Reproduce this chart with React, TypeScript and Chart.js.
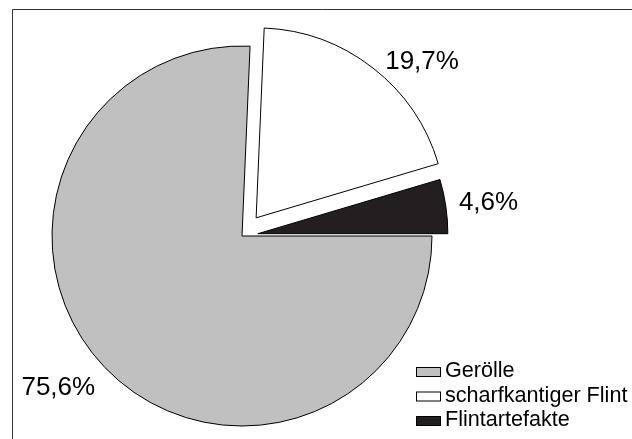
import React, { useEffect, useRef } from "react";
import { Chart, registerables } from "chart.js";

Chart.register(...registerables);

// ---- data ----
const categories: string[] = ["Gerölle", "scharfkantiger Flint", "Flintartefakte"];
const values: number[] = [75.6, 19.7, 4.6];
const valueLabels: string[] = ["75,6%", "19,7%", "4,6%"];

// ---- styles ----
const colors = ["#c0c0c0", "#ffffff", "#231f20"];
const explode = [0, 23, 16]; // px pulled out along slice mid-angle
const labelAngleShift = [4.6, 8.5, 0.2]; // degrees
const labelDist = [237, 229, 233];
const FONT = '"Liberation Sans", Arial, Helvetica, sans-serif';

const W = 632;
const H = 439;

const explodePlugin = {
  id: "explodeSlices",
  afterDatasetsUpdate(chart: any) {
    const meta = chart.getDatasetMeta(0);
    meta.data.forEach((arc: any, i: number) => {
      const mid = (arc.startAngle + arc.endAngle) / 2;
      arc.x += Math.cos(mid) * explode[i];
      arc.y += Math.sin(mid) * explode[i];
    });
  },
};

const framePlugin = {
  id: "frame",
  beforeDraw(chart: any) {
    const ctx = chart.ctx;
    ctx.save();
    ctx.fillStyle = "#ffffff";
    ctx.fillRect(0, 0, W, H);
    ctx.strokeStyle = "#333333";
    ctx.lineWidth = 1;
    ctx.beginPath();
    ctx.moveTo(W, 9.5);
    ctx.lineTo(12.5, 9.5);
    ctx.lineTo(12.5, H);
    ctx.stroke();
    ctx.restore();
  },
};

const labelPlugin = {
  id: "valueLabels",
  afterDatasetsDraw(chart: any) {
    const ctx = chart.ctx;
    const meta = chart.getDatasetMeta(0);
    ctx.save();
    ctx.fillStyle = "#000000";
    ctx.font = `26px ${FONT}`;
    ctx.textAlign = "center";
    ctx.textBaseline = "alphabetic";
    meta.data.forEach((arc: any, i: number) => {
      const mid = (arc.startAngle + arc.endAngle) / 2 + (labelAngleShift[i] * Math.PI) / 180;
      const x = arc.x + Math.cos(mid) * labelDist[i];
      const y = arc.y + Math.sin(mid) * labelDist[i];
      ctx.fillText(valueLabels[i], x, y + 9);
    });
    ctx.restore();
  },
};

const legendPlugin = {
  id: "boxLegend",
  afterDraw(chart: any) {
    const ctx = chart.ctx;
    ctx.save();
    ctx.font = `21.6px ${FONT}`;
    ctx.textAlign = "left";
    ctx.textBaseline = "alphabetic";
    const x0 = 416;
    const y0 = 377;
    const step = 24.5;
    categories.forEach((c, i) => {
      const base = y0 + i * step;
      ctx.fillStyle = colors[i];
      ctx.fillRect(x0 + 0.5, base - 9.5, 24, 9);
      ctx.strokeStyle = "#000000";
      ctx.lineWidth = 1;
      ctx.strokeRect(x0 + 0.5, base - 9.5, 24, 9);
      ctx.fillStyle = "#000000";
      ctx.fillText(c, x0 + 29, base);
    });
    ctx.restore();
  },
};

export default function App() {
  const ref = useRef<HTMLCanvasElement | null>(null);

  useEffect(() => {
    if (!ref.current) return;
    const chart = new Chart(ref.current, {
      type: "pie",
      data: {
        labels: categories,
        datasets: [
          {
            data: values,
            backgroundColor: colors,
            borderColor: "#000000",
            borderWidth: 1,
          },
        ],
      },
      options: {
        responsive: false,
        animation: false,
        events: [],
        rotation: 90,
        radius: 190,
        layout: { padding: { left: 52, right: 200, top: 46, bottom: 13 } },
        plugins: {
          legend: { display: false },
          tooltip: { enabled: false },
        },
      } as any,
      plugins: [framePlugin, explodePlugin, labelPlugin, legendPlugin],
    });
    return () => chart.destroy();
  }, []);

  return (
    <div style={{ position: "absolute", left: 0, top: 0, width: W, height: H }}>
      <canvas ref={ref} width={W} height={H} style={{ display: "block" }} />
    </div>
  );
}
